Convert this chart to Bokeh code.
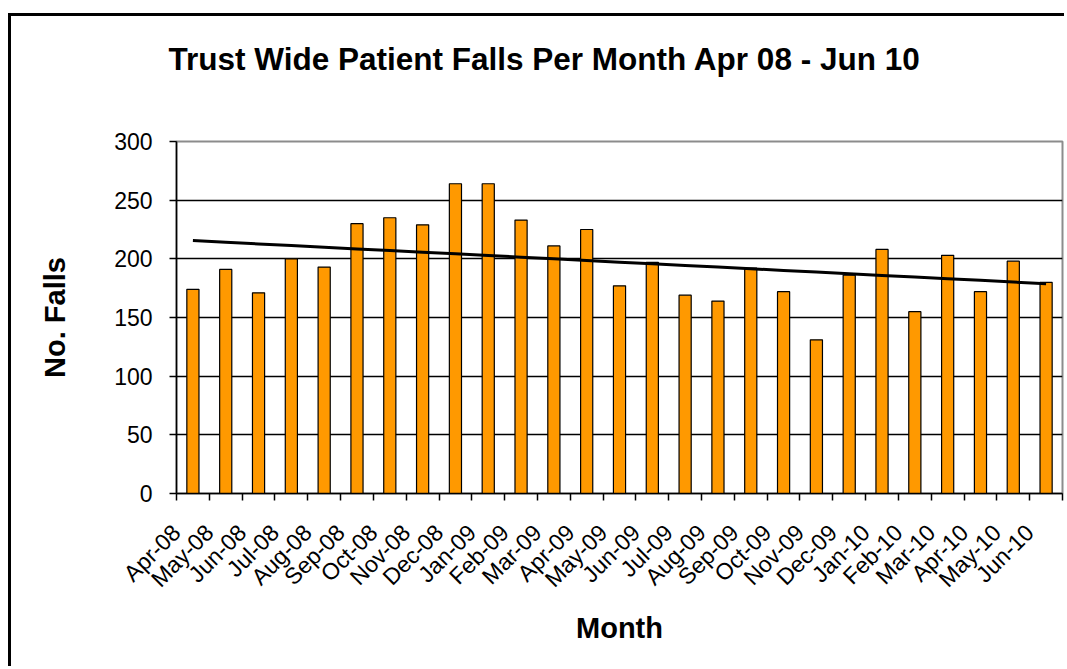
import math
import numpy as np
from bokeh.plotting import figure
from bokeh.models import ColumnDataSource, Range1d, FixedTicker, Title
from bokeh.embed import file_html
from bokeh.resources import INLINE

months = ["Apr-08", "May-08", "Jun-08", "Jul-08", "Aug-08", "Sep-08", "Oct-08",
          "Nov-08", "Dec-08", "Jan-09", "Feb-09", "Mar-09", "Apr-09", "May-09",
          "Jun-09", "Jul-09", "Aug-09", "Sep-09", "Oct-09", "Nov-09", "Dec-09",
          "Jan-10", "Feb-10", "Mar-10", "Apr-10", "May-10", "Jun-10"]
falls = [174, 191, 171, 200, 193, 230, 235, 229, 264, 264, 233, 211, 225, 177,
         197, 169, 164, 192, 172, 131, 186, 208, 155, 203, 172, 198, 180]
y_ticks = [0, 50, 100, 150, 200, 250, 300]

title_text = "Trust Wide Patient Falls Per Month Apr 08 - Jun 10"
FONT = "Liberation Sans"

# category slots: month i occupies [i, i+1], bar at slot centre (Excel style)
n = len(months)
centres = [i + 0.5 for i in range(n)]

# linear trend line (least squares, like Excel's linear trendline)
idx = np.arange(n)
slope, intercept = np.polyfit(idx, np.array(falls, dtype=float), 1)
trend = list(intercept + slope * idx)

src = ColumnDataSource(dict(x=centres, falls=falls, month=months))

p = figure(width=1056, height=653,
           x_range=Range1d(0, n), y_range=Range1d(0, 300),
           output_backend="svg", toolbar_location=None,
           min_border_left=165, min_border_top=125,
           min_border_right=5, min_border_bottom=176,
           background_fill_color="white", border_fill_color="white")
p.margin = (13, 0, 0, 8)
p.styles = {"border-left": "3px solid black", "border-top": "3px solid black"}

p.vbar(x="x", top="falls", width=0.37, source=src,
       fill_color="#FF9900", line_color="black", line_width=1.2)
p.line(centres, trend, line_color="black", line_width=3)

# spacer between frame and chart title, then the chart title further out
spacer = Title(text=" ", text_font=FONT, text_font_size="20px", standoff=36)
p.add_layout(spacer, "above")
chart_title = Title(text=title_text, align="left", offset=-8,
                    vertical_align="bottom", standoff=10,
                    text_font=FONT, text_font_size="31.5px",
                    text_font_style="bold", text_color="black")
p.add_layout(chart_title, "above")

# x axis: ticks on category boundaries, labels like Excel
p.xgrid.visible = False
overrides = {i: m for i, m in enumerate(months)}
overrides[n] = ""
xax = p.xaxis[0]
xax.ticker = FixedTicker(ticks=list(range(n + 1)), minor_ticks=[])
xax.major_label_overrides = overrides
xax.major_label_orientation = math.pi / 4
xax.major_label_text_font = FONT
xax.major_label_text_font_size = "23px"
xax.major_label_text_color = "black"
xax.major_label_standoff = 28
xax.major_tick_out = 7
xax.major_tick_in = 0
xax.major_tick_line_color = "black"
xax.major_tick_line_width = 1.5
xax.minor_tick_out = 0
xax.minor_tick_in = 0
xax.axis_line_color = "black"
xax.axis_line_width = 1.5
xax.axis_label = "Month"
xax.axis_label_text_font = FONT
xax.axis_label_text_font_size = "29px"
xax.axis_label_text_font_style = "bold"
xax.axis_label_text_color = "black"
xax.axis_label_standoff = 8

yax = p.yaxis[0]
yax.ticker = FixedTicker(ticks=y_ticks, minor_ticks=[])
yax.major_label_text_font = FONT
yax.major_label_text_font_size = "23px"
yax.major_label_text_color = "black"
yax.major_label_standoff = 17
yax.major_tick_out = 7
yax.major_tick_in = 0
yax.major_tick_line_color = "black"
yax.major_tick_line_width = 1.5
yax.minor_tick_out = 0
yax.minor_tick_in = 0
yax.axis_line_color = "black"
yax.axis_line_width = 1.5
yax.axis_label = "No. Falls"
yax.axis_label_text_font = FONT
yax.axis_label_text_font_size = "29px"
yax.axis_label_text_font_style = "bold"
yax.axis_label_text_color = "black"
yax.axis_label_standoff = 40

p.ygrid.ticker = FixedTicker(ticks=y_ticks)
p.ygrid.grid_line_color = "black"
p.ygrid.grid_line_width = 1.5

p.outline_line_color = "#8c8c8c"
p.outline_line_width = 2

open("out.html", "w").write(file_html(p, INLINE))
